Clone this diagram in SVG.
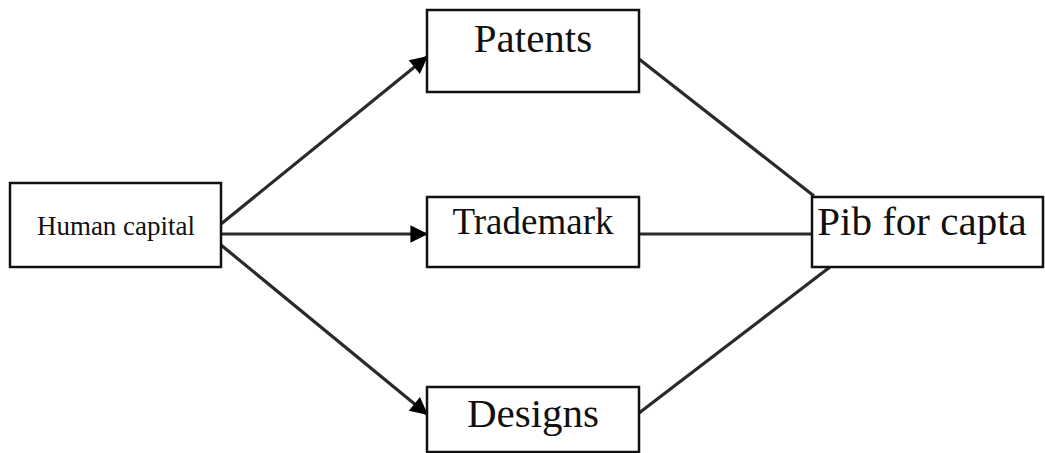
<svg xmlns="http://www.w3.org/2000/svg" width="1045" height="453" viewBox="0 0 1045 453">
  <style>
    .box { fill: #ffffff; stroke: #111111; stroke-width: 2.5; }
    .label { font-family: "Liberation Serif", "Times New Roman", serif; fill: #111111; text-anchor: middle; }
    .edge { stroke: #2a2a2a; stroke-width: 3.2; fill: none; }
  </style>
  <defs>
    <marker id="arrow" viewBox="0 0 10 10" refX="10" refY="5" markerWidth="7" markerHeight="5.5" markerUnits="strokeWidth" orient="auto">
      <path d="M0,0 L10,5 L0,10 z" fill="#000000"/>
    </marker>
  </defs>
  <rect width="1045" height="453" fill="#ffffff"/>

  <!-- connectors -->
  <g id="connectors">
    <line class="edge" x1="221" y1="224" x2="428" y2="56" marker-end="url(#arrow)"/>
    <line class="edge" x1="221" y1="234" x2="428" y2="234" marker-end="url(#arrow)"/>
    <line class="edge" x1="221" y1="245" x2="428" y2="415" marker-end="url(#arrow)"/>
    <line class="edge" x1="639" y1="59" x2="814" y2="196"/>
    <line class="edge" x1="639" y1="234" x2="812" y2="234"/>
    <line class="edge" x1="639" y1="413" x2="830" y2="267"/>
  </g>

  <!-- nodes -->
  <g id="human-capital">
    <rect class="box" x="10" y="183" width="211" height="84"/>
    <text class="label" x="116" y="235" font-size="27">Human capital</text>
  </g>
  <g id="patents">
    <rect class="box" x="427" y="10" width="212" height="82"/>
    <text class="label" x="533" y="52" font-size="41">Patents</text>
  </g>
  <g id="trademark">
    <rect class="box" x="427" y="197" width="212" height="70"/>
    <text class="label" x="533" y="234" font-size="37">Trademark</text>
  </g>
  <g id="designs">
    <rect class="box" x="427" y="387" width="212" height="65"/>
    <text class="label" x="533" y="427" font-size="41">Designs</text>
  </g>
  <g id="pib-for-capta">
    <rect class="box" x="812" y="197" width="231" height="70"/>
    <text class="label" x="922" y="235" font-size="41">Pib for capta</text>
  </g>
</svg>
